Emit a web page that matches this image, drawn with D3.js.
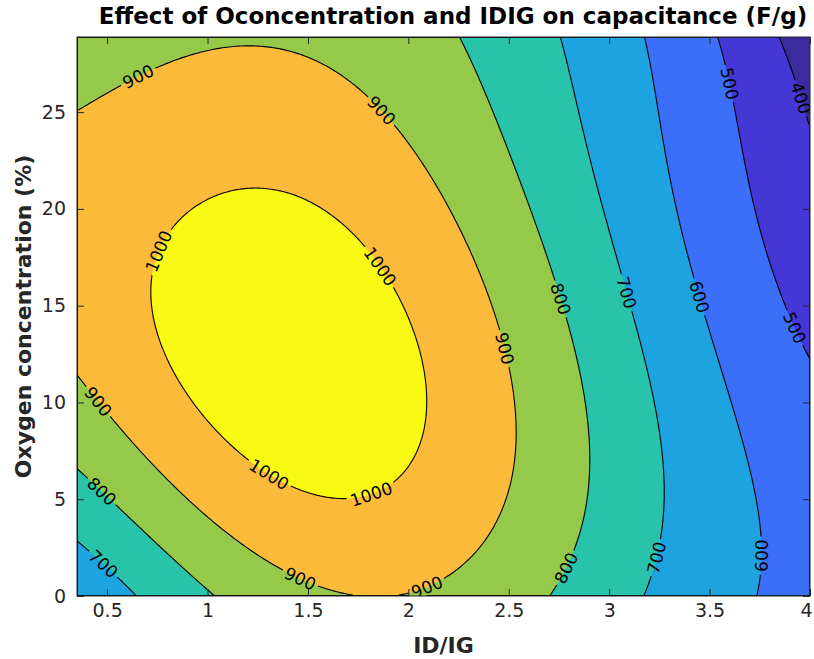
<!DOCTYPE html>
<html><head><meta charset="utf-8">
<script src="https://cdn.jsdelivr.net/npm/d3@7"></script>
<style>
html,body{margin:0;padding:0;background:#fff;}
svg{display:block;}
</style></head><body>
<svg id="chart" width="814" height="659"></svg>
<script>
// Axis ranges and ticks
const xDomain = [0.35, 4];      // ID/IG
const yDomain = [0, 28.88];     // oxygen concentration (%)
const xTicks = [0.5, 1, 1.5, 2, 2.5, 3, 3.5, 4];
const yTicks = [0, 5, 10, 15, 20, 25];

// Contour levels of capacitance (F/g)
const levels = [400, 500, 600, 700, 800, 900, 1000];

// Response surface: capacitance as a 5th-order polynomial in the scaled
// variables u = (x - 2.175) / 1.825 and v = (y - 14.44) / 14.44.
// Terms ordered by total degree: 1 | u v | u² uv v² | u³ u²v uv² v³ | ...
const surfaceCoefficients = [
  963.91,
  -406.75, -115.01,
  -345.21, -58.95, -130.63,
  259.28, 175.41, 228.81, 106.90,
  87.65, -60.75, 10.95, 2.99, 15.18,
  -79.78, -74.77, -84.62, -65.68, -61.19, -27.05
];
const surfaceCenter = [2.175, 14.44];
const surfaceHalfSpan = [1.825, 14.44];

// Where each inline contour label sits: [level, ID/IG, O %]
const labelSpots = [
  [900, 0.629, 27.37], [900, 1.859, 24.99], [1000, 0.758, 17.8], [1000, 1.849, 16.97],
  [900, 0.455, 10.09], [800, 0.479, 5.43], [700, 0.47, 1.5], [1000, 1.301, 6.16],
  [1000, 1.819, 4.97], [900, 1.46, 0.88], [900, 2.083, 0.67], [800, 2.76, 1.6],
  [700, 3.278, 1.86], [600, 3.786, 2.07], [900, 2.467, 12.73], [800, 2.755, 15.31],
  [700, 3.074, 15.67], [600, 3.448, 15.42], [500, 3.547, 26.38], [400, 3.94, 25.71],
  [500, 3.93, 13.9]
];

// Fill colour for each band (below the first level, then above each level)
const bandColors = ["#3b2b9c", "#4536d6", "#3b6ef9", "#1ea3e1", "#29c2aa", "#95c94a", "#fcba3a", "#f8fa14"];

function surface(x, y) {
  const u = (x - surfaceCenter[0]) / surfaceHalfSpan[0];
  const v = (y - surfaceCenter[1]) / surfaceHalfSpan[1];
  let z = 0, k = 0;
  for (let d = 0; d <= 5; d++)
    for (let i = 0; i <= d; i++) z += surfaceCoefficients[k++] * Math.pow(u, d - i) * Math.pow(v, i);
  return z;
}

const W = 814, H = 659;
const m = {left: 77, right: 810, top: 37, bottom: 596};
const xs = d3.scaleLinear().domain(xDomain).range([m.left, m.right]);
const ys = d3.scaleLinear().domain(yDomain).range([m.bottom, m.top]);
const svg = d3.select("#chart");

// Sample the surface on a fine grid (cell centres)
const nx = 330, ny = 270;
const grid = new Float64Array(nx * ny);
for (let j = 0; j < ny; j++) for (let i = 0; i < nx; i++) {
  const x = xDomain[0] + (i + 0.5) / nx * (xDomain[1] - xDomain[0]);
  const y = yDomain[0] + (j + 0.5) / ny * (yDomain[1] - yDomain[0]);
  grid[j * nx + i] = surface(x, y);
}

const bands = d3.contours().size([nx, ny]).thresholds(levels)(grid);
const toPx = (gx, gy) => [
  xs(xDomain[0] + gx / nx * (xDomain[1] - xDomain[0])),
  ys(yDomain[0] + gy / ny * (yDomain[1] - yDomain[0]))
];
const path = d3.geoPath(d3.geoTransform({point(x, y) { const p = toPx(x, y); this.stream.point(p[0], p[1]); }}));

const defs = svg.append("defs");
defs.append("clipPath").attr("id", "plotClip").append("rect")
  .attr("x", m.left).attr("y", m.top).attr("width", m.right - m.left).attr("height", m.bottom - m.top);

// Filled bands
const plot = svg.append("g").attr("clip-path", "url(#plotClip)");
plot.append("rect").attr("x", m.left).attr("y", m.top)
  .attr("width", m.right - m.left).attr("height", m.bottom - m.top).attr("fill", bandColors[0]);
plot.selectAll("path.band").data(bands).join("path").attr("class", "band")
  .attr("d", path).attr("fill", (d, i) => bandColors[i + 1]);

// Put each label on the nearest point of its iso-line, aligned with the line
const fs = 17;
const placed = labelSpots.map(([lv, lx, ly]) => {
  const band = bands[levels.indexOf(lv)];
  const target = [xs(lx), ys(ly)];
  let best = null;
  band.coordinates.forEach(poly => poly.forEach(ring => {
    const pts = ring.map(p => ({g: p, px: toPx(p[0], p[1])}));
    pts.forEach((p, k) => {
      if (p.g[0] <= 0 || p.g[0] >= nx || p.g[1] <= 0 || p.g[1] >= ny) return;
      const d = (p.px[0] - target[0]) ** 2 + (p.px[1] - target[1]) ** 2;
      if (!best || d < best.d) best = {d, pts, k};
    });
  }));
  const n = best.pts.length;
  const a = best.pts[(best.k - 4 + n) % n].px, b = best.pts[(best.k + 4) % n].px;
  let ang = Math.atan2(b[1] - a[1], b[0] - a[0]) * 180 / Math.PI;
  if (ang > 90) ang -= 180;
  if (ang <= -90) ang += 180;
  return {lv, x: best.pts[best.k].px[0], y: best.pts[best.k].px[1], ang};
});

// Break the lines under the labels
const mask = defs.append("mask").attr("id", "lineMask").attr("maskUnits", "userSpaceOnUse")
  .attr("x", 0).attr("y", 0).attr("width", W).attr("height", H);
mask.append("rect").attr("width", W).attr("height", H).attr("fill", "#fff");
placed.forEach(p => {
  const w = String(p.lv).length * 0.636 * fs + 6;
  mask.append("rect").attr("x", -w / 2).attr("y", -fs * 0.45).attr("width", w).attr("height", fs * 0.9)
    .attr("transform", `translate(${p.x},${p.y}) rotate(${p.ang})`).attr("fill", "#000");
});
plot.append("g").attr("mask", "url(#lineMask)").selectAll("path").data(bands).join("path")
  .attr("d", path).attr("fill", "none").attr("stroke", "#000").attr("stroke-width", 1.1);
plot.append("g").selectAll("text").data(placed).join("text")
  .attr("transform", d => `translate(${d.x},${d.y}) rotate(${d.ang})`)
  .attr("text-anchor", "middle").attr("dy", "0.36em")
  .attr("font-family", "DejaVu Sans").attr("font-size", fs).attr("fill", "#000")
  .text(d => d.lv);

// Axes: ticks point inward on all four sides
const tickCol = "#262626";
const axB = svg.append("g").attr("transform", `translate(0,${m.bottom})`)
  .call(d3.axisBottom(xs).tickValues(xTicks).tickFormat(d => String(d)).tickSizeInner(-7).tickSizeOuter(0).tickPadding(8));
const axL = svg.append("g").attr("transform", `translate(${m.left},0)`)
  .call(d3.axisLeft(ys).tickValues(yTicks).tickFormat(d => String(d)).tickSizeInner(-7).tickSizeOuter(0).tickPadding(11));
const axT = svg.append("g").attr("transform", `translate(0,${m.top})`)
  .call(d3.axisTop(xs).tickValues(xTicks).tickFormat("").tickSizeInner(-7).tickSizeOuter(0));
const axR = svg.append("g").attr("transform", `translate(${m.right},0)`)
  .call(d3.axisRight(ys).tickValues(yTicks).tickFormat("").tickSizeInner(-7).tickSizeOuter(0));
[axB, axL, axT, axR].forEach(g => {
  g.select(".domain").remove();
  g.selectAll("line").attr("stroke", tickCol);
  g.selectAll("text").attr("font-family", "DejaVu Sans").attr("font-size", 19).attr("fill", tickCol);
});
// keep the last x label inside the figure edge
axB.selectAll(".tick text").filter(d => d === xTicks[xTicks.length - 1]).attr("dx", -4);
svg.append("rect").attr("x", m.left).attr("y", m.top).attr("width", m.right - m.left).attr("height", m.bottom - m.top)
  .attr("fill", "none").attr("stroke", tickCol).attr("stroke-width", 1);

// Title and axis labels
svg.append("text").attr("x", 453).attr("y", 24).attr("text-anchor", "middle")
  .attr("font-family", "DejaVu Sans").attr("font-weight", "bold").attr("font-size", 23).attr("fill", "#000")
  .text("Effect of Oconcentration and IDIG on capacitance (F/g)");
svg.append("text").attr("x", (m.left + m.right) / 2).attr("y", 653).attr("text-anchor", "middle")
  .attr("font-family", "DejaVu Sans").attr("font-weight", "bold").attr("font-size", 22).attr("fill", tickCol)
  .text("ID/IG");
svg.append("text").attr("transform", `translate(31,${(m.top + m.bottom) / 2}) rotate(-90)`).attr("text-anchor", "middle")
  .attr("font-family", "DejaVu Sans").attr("font-weight", "bold").attr("font-size", 22).attr("fill", tickCol)
  .text("Oxygen concentration (%)");
</script>
</body></html>
